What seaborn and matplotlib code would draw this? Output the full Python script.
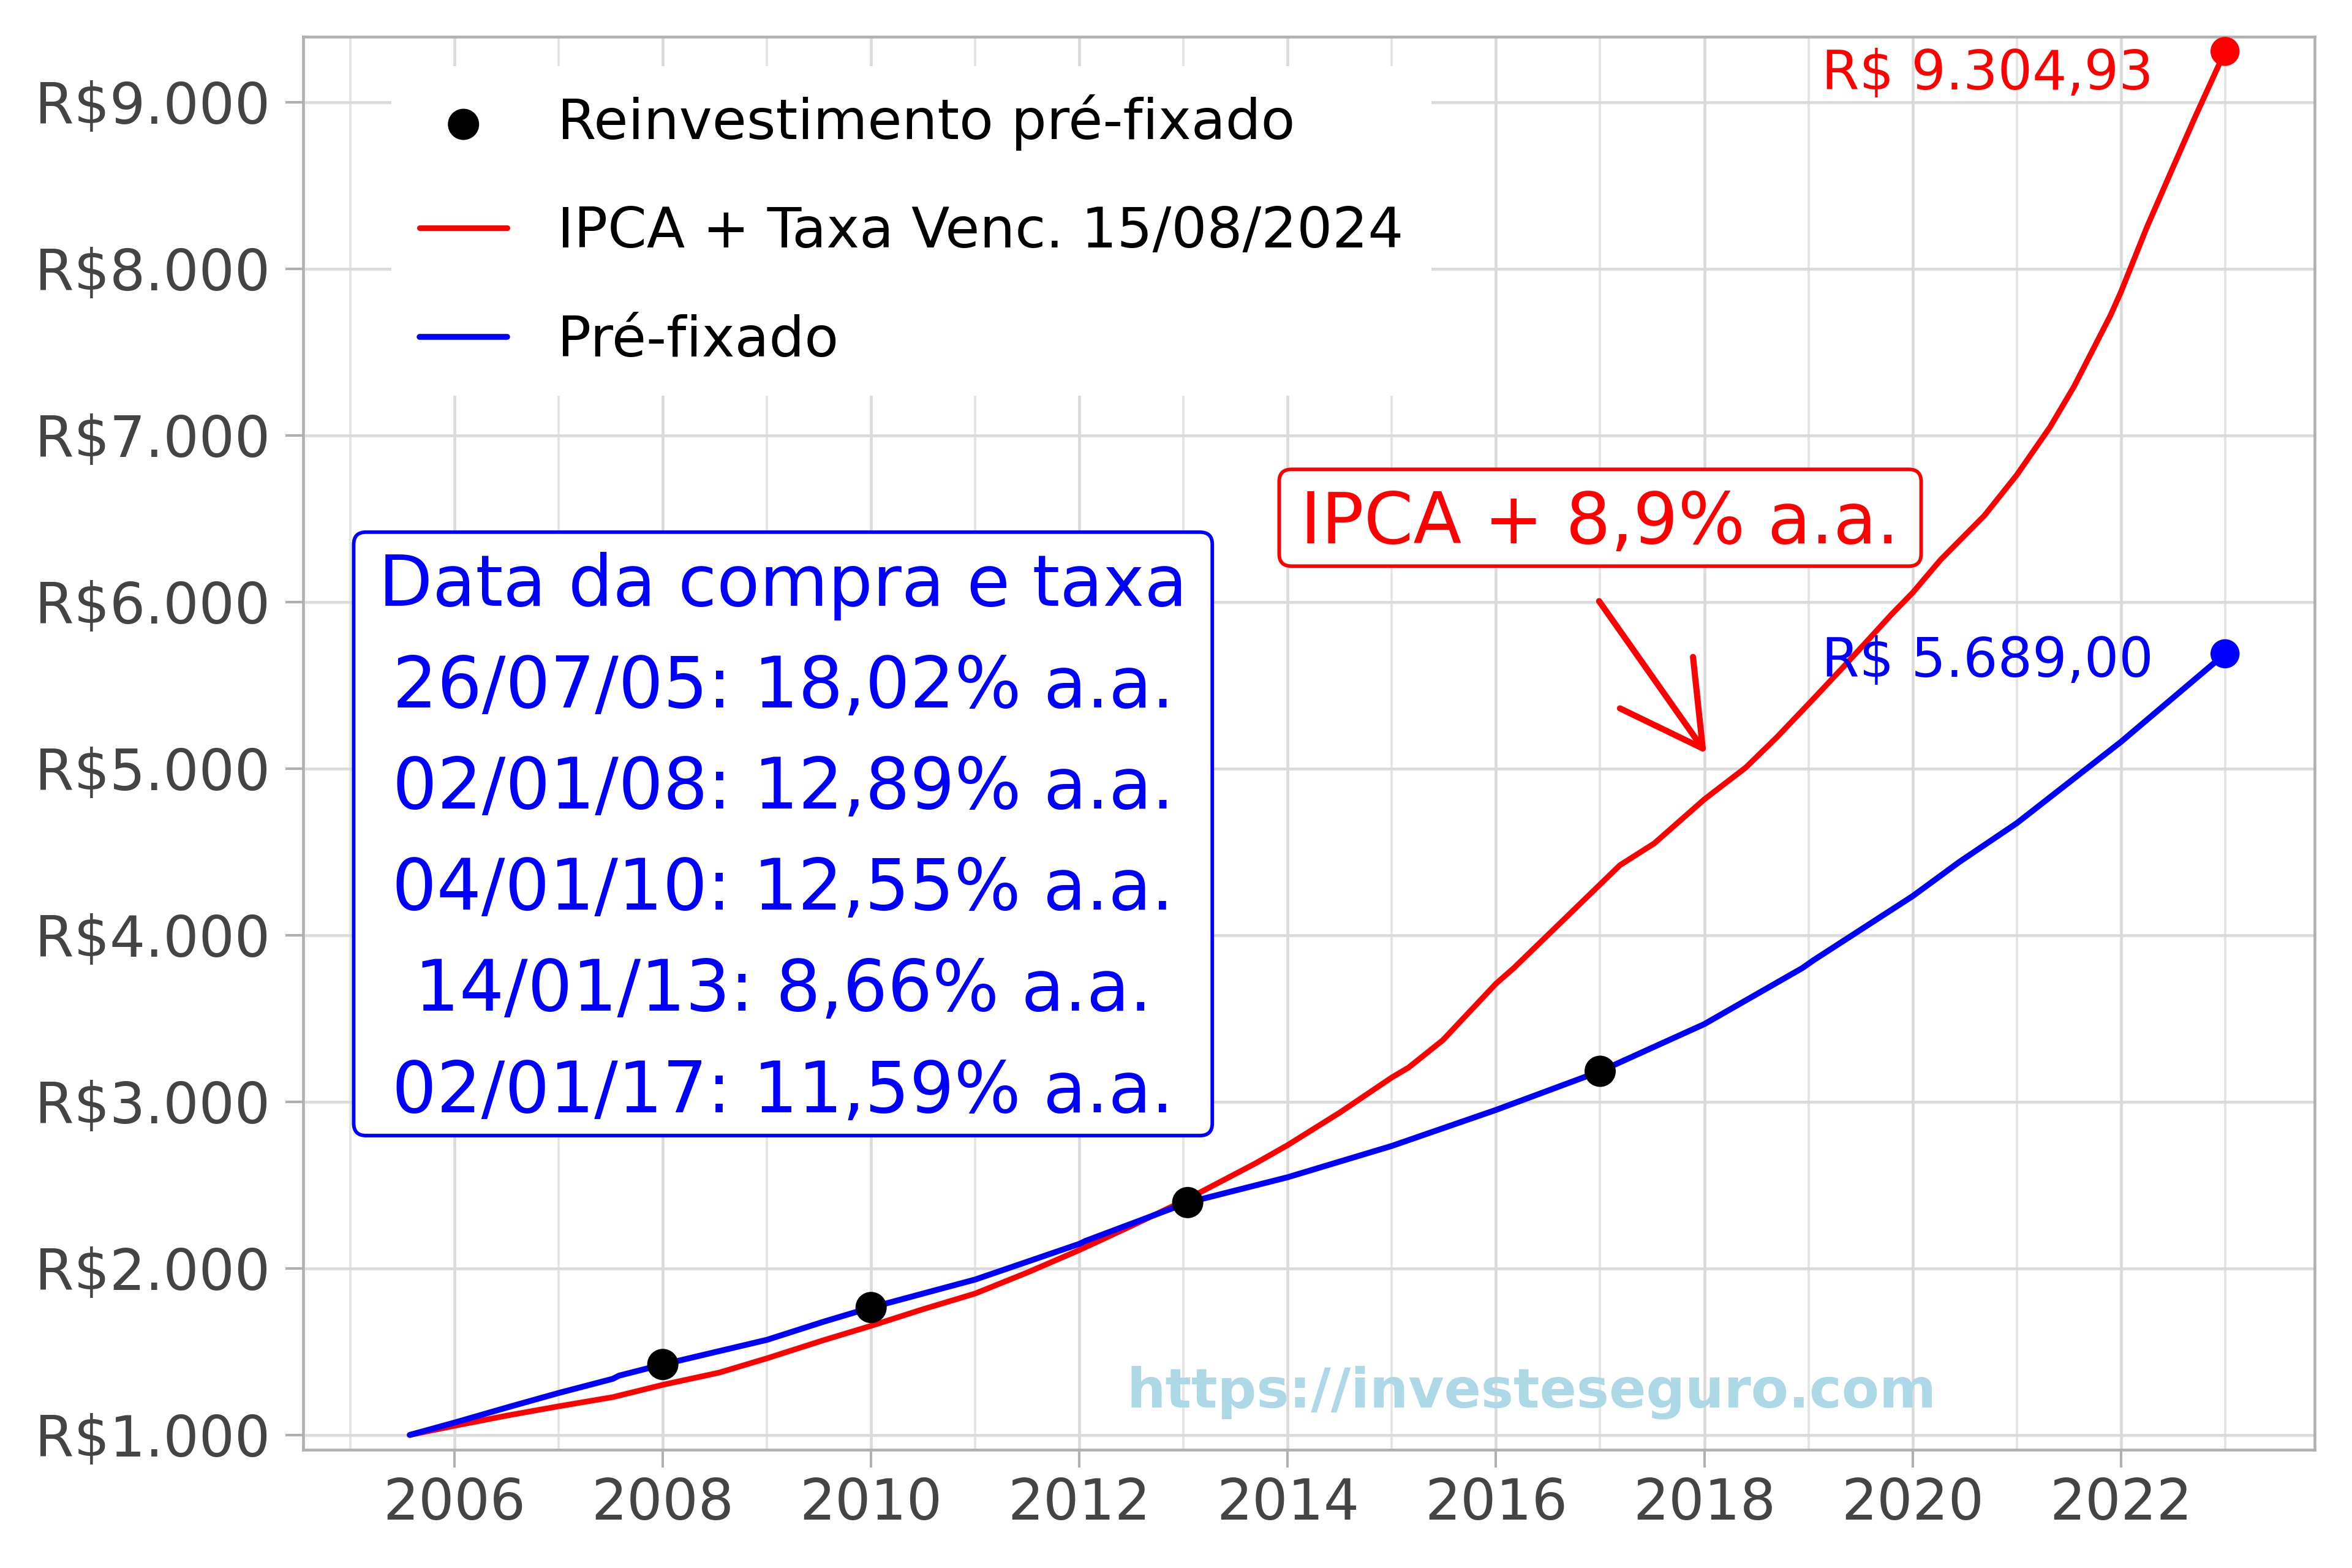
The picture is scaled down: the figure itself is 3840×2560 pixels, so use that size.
import numpy as np
import pandas as pd
import matplotlib
matplotlib.use("Agg")
import matplotlib.pyplot as plt
from matplotlib.patches import ArrowStyle, FancyBboxPatch
from matplotlib.ticker import FuncFormatter, MultipleLocator
import seaborn as sns

# ---------------- data ----------------
ipca_years = [2005.57, 2006.0, 2006.51, 2007.0, 2007.52, 2008.0, 2008.54, 2009.0,
              2009.55, 2010.0, 2010.5, 2011.0, 2011.5, 2012.0, 2012.5, 2013.0,
              2013.69, 2014.0, 2014.5, 2015.0, 2015.16, 2015.49, 2016.0, 2016.17,
              2016.51, 2016.85, 2017.19, 2017.52, 2018.0, 2018.40, 2018.70, 2019.07,
              2019.38, 2019.80, 2020.0, 2020.27, 2020.69, 2021.0, 2021.32, 2021.55,
              2021.90, 2022.0, 2022.25, 2022.48, 2022.71, 2023.0]
ipca_values = [1000, 1055, 1117, 1172, 1227, 1301, 1374, 1460,
               1570, 1655, 1755, 1849, 1975, 2110, 2255, 2404,
               2630, 2740, 2935, 3146, 3205, 3370, 3709, 3802,
               4008, 4214, 4420, 4551, 4815, 5007, 5190, 5433,
               5640, 5927, 6055, 6254, 6519, 6762, 7050, 7293,
               7720, 7860, 8250, 8580, 8907, 9304.93]

pre_years = [2005.57, 2006.0, 2006.51, 2007.0, 2007.52, 2007.58, 2008.0, 2008.54,
             2009.0, 2009.55, 2010.0, 2011.0, 2012.0, 2012.06, 2013.04, 2014.0,
             2015.0, 2016.0, 2017.0, 2018.0, 2018.94, 2019.05, 2020.0, 2020.45,
             2021.0, 2022.0, 2023.0]
pre_values = [1000, 1074, 1166, 1252, 1337, 1356, 1423, 1503,
              1571, 1681, 1765, 1933, 2147, 2165, 2395, 2547,
              2735, 2951, 3183, 3466, 3802, 3850, 4234, 4440,
              4672, 5160, 5689.00]

reinv_years = [2008.0, 2010.0, 2013.04, 2017.0]
reinv_values = [1423, 1765, 2395, 3183]

end_years = [2023.0, 2023.0]
end_values = [9304.93, 5689.00]
end_colors = ["red", "blue"]
end_labels = ["R$ 9.304,93", "R$ 5.689,00"]

series_names = ["Reinvestimento pré-fixado", "IPCA + Taxa Venc. 15/08/2024", "Pré-fixado"]

box_lines = ["Data da compra e taxa",
             "26/07/05: 18,02% a.a.",
             "02/01/08: 12,89% a.a.",
             "04/01/10: 12,55% a.a.",
             "14/01/13: 8,66% a.a.",
             "02/01/17: 11,59% a.a."]

ipca_note = "IPCA + 8,9% a.a."
watermark = "https://investeseguro.com"

x_major = [2006, 2008, 2010, 2012, 2014, 2016, 2018, 2020, 2022]
y_major = [1000, 2000, 3000, 4000, 5000, 6000, 7000, 8000, 9000]

# ---------------- style ----------------
sns.set_theme(style="whitegrid")
plt.rcParams["font.family"] = ["DejaVu Sans"]

fig = plt.figure(figsize=(12.8, 2560 / 300), dpi=300)
ax = fig.add_axes([0.1289, 0.0755, 0.9841 - 0.1289, 0.9766 - 0.0755])
ax.set_facecolor("white")

df_ipca = pd.DataFrame({"ano": ipca_years, "valor": ipca_values})
df_pre = pd.DataFrame({"ano": pre_years, "valor": pre_values})
df_reinv = pd.DataFrame({"ano": reinv_years, "valor": reinv_values})
df_end = pd.DataFrame({"ano": end_years, "valor": end_values, "cor": end_colors})

sns.lineplot(data=df_ipca, x="ano", y="valor", color="red", linewidth=2.2,
             sort=False, estimator=None, ax=ax, label=series_names[1], zorder=3)
sns.lineplot(data=df_pre, x="ano", y="valor", color="blue", linewidth=2.3,
             sort=False, estimator=None, ax=ax, label=series_names[2], zorder=4)
sns.scatterplot(data=df_reinv, x="ano", y="valor", color="black", s=150,
                edgecolor="none", ax=ax, label=series_names[0], zorder=5)
sns.scatterplot(data=df_end, x="ano", y="valor", hue="cor",
                palette={"red": "red", "blue": "blue"}, s=130, edgecolor="none",
                ax=ax, legend=False, zorder=5)

# axes limits / ticks
ax.set_xlim(2004.547, 2023.86)
ax.set_ylim(912, 9393)
ax.set_xticks(x_major)
ax.xaxis.set_minor_locator(MultipleLocator(1))
ax.set_yticks(y_major)
ax.yaxis.set_major_formatter(FuncFormatter(lambda v, p: "R$" + f"{v:,.0f}".replace(",", ".")))
ax.set_xlabel("")
ax.set_ylabel("")

ax.grid(which="major", color="#dadada", linewidth=1.1)
ax.grid(which="minor", axis="x", color="#e4e4e4", linewidth=0.9)
ax.tick_params(axis="both", which="major", labelsize=22, labelcolor="#444444",
               color="#b0b0b0", length=7, width=1.0, direction="out",
               bottom=True, left=True)
ax.tick_params(axis="x", which="major", pad=3.5)
ax.tick_params(axis="y", which="major", pad=6)
ax.tick_params(axis="both", which="minor", length=0)
for s in ax.spines.values():
    s.set_visible(True)
    s.set_color("#b0b0b0")
    s.set_linewidth(1.1)

# end labels
label_y = [9166, 5640]
for lab, ly, c in zip(end_labels, label_y, end_colors):
    ax.text(2022.31, ly, lab, color=c, fontsize=21.3, ha="right", va="center", zorder=6)

# legend
h, l = ax.get_legend_handles_labels()
order = [l.index(n) for n in series_names]
leg = ax.legend([h[i] for i in order], [l[i] for i in order],
                loc="upper left", bbox_to_anchor=(0.044, 0.979),
                fontsize=21.9, frameon=True, facecolor="white", edgecolor="none",
                framealpha=1.0, fancybox=False, borderpad=0.5, labelspacing=0.98,
                handlelength=1.57, handletextpad=0.9, borderaxespad=0.0,
                markerscale=1.0)
for t in leg.get_texts():
    t.set_color("black")
leg.set_zorder(7)

# helper: rounded box in data coordinates with circular (pixel) corners
p0 = ax.transData.transform((0, 0))
px_x = ax.transData.transform((1, 0))[0] - p0[0]
px_y = ax.transData.transform((0, 1))[1] - p0[1]
aspect = px_x / px_y
radius_px = 20


def round_box(x0, x1, y0, y1, color):
    patch = FancyBboxPatch((x0, y0), x1 - x0, y1 - y0,
                           boxstyle=f"round,pad=0,rounding_size={radius_px / px_x}",
                           mutation_scale=1, mutation_aspect=aspect,
                           facecolor="white", edgecolor=color, linewidth=1.4,
                           zorder=6)
    ax.add_patch(patch)


# annotation box (blue)
round_box(2005.032, 2013.276, 2797, 6419, "blue")
first_baseline = 5976
step = 607.5
for i, line in enumerate(box_lines):
    ax.text(2009.155, first_baseline - i * step, line, color="blue", fontsize=27.5,
            ha="center", va="baseline", zorder=6.5)

# IPCA note (red) with arrow
round_box(2013.918, 2020.082, 6215, 6796, "red")
ax.text(2016.996, 6353, ipca_note, color="red", fontsize=27.7, ha="center",
        va="baseline", zorder=6.5)
ax.annotate("", xy=(2018.02, 5090), xytext=(2016.99, 6005),
            arrowprops=dict(arrowstyle=ArrowStyle.CurveB(head_length=31.5, head_width=17.5),
                            color="red", lw=2.4, mutation_scale=1,
                            shrinkA=0, shrinkB=0), zorder=6)

# watermark
ax.text(2016.34, 1257, watermark, color="#add8e6", fontsize=21.4, fontweight="bold",
        ha="center", va="center", zorder=2)

fig.savefig("out.png", dpi=300, facecolor="white")
